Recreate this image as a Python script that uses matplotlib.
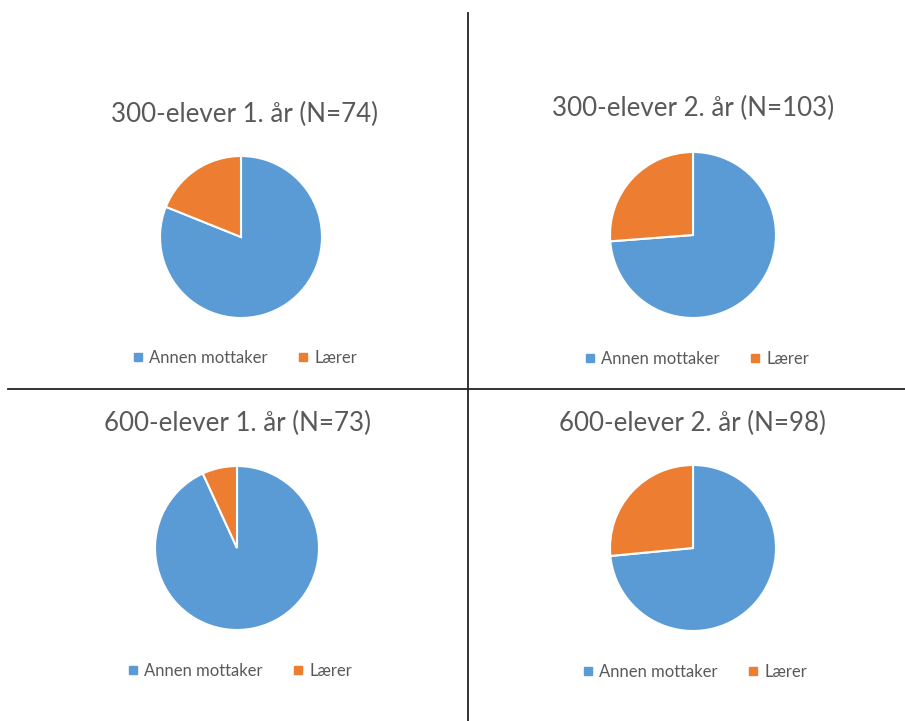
import matplotlib
matplotlib.use('Agg')
import matplotlib.pyplot as plt
from matplotlib.lines import Line2D

# data
categories = ['Annen mottaker', 'Lærer']
titles = ['300-elever 1. år (N=74)', '300-elever 2. år (N=103)',
          '600-elever 1. år (N=73)', '600-elever 2. år (N=98)']
annen = [60, 76, 68, 72]
laerer = [14, 27, 5, 26]
colors = ['#5B9BD5', '#ED7D31']

W, H = 905, 721
plt.rcParams['font.family'] = ['Lato', 'DejaVu Sans']
text_color = '#595959'

# pixel layout per panel: pie centre, radius, title pos, legend centre
pie_pos = [(241, 237, 81), (693, 235, 83), (237, 548, 82), (693, 548, 83)]
title_pos = [(244, 114), (693, 108), (237, 423), (692, 423)]
legend_pos = [(245, 358), (697, 359), (240, 671), (695, 672)]

fig = plt.figure(figsize=(W / 100, H / 100), dpi=100)
fig.patch.set_facecolor('white')

for i in range(4):
    cx, cy, r = pie_pos[i]
    ax = fig.add_axes([(cx - r) / W, 1 - (cy + r) / H, 2 * r / W, 2 * r / H])
    ax.pie([annen[i], laerer[i]], colors=colors, startangle=90, counterclock=False,
           radius=1, wedgeprops=dict(edgecolor='white', linewidth=1.5))
    ax.set_xlim(-1.0, 1.0)
    ax.set_ylim(-1.0, 1.0)
    ax.set_aspect('equal')
    ax.axis('off')

    tx, ty = title_pos[i]
    fig.text(tx / W, 1 - ty / H, titles[i], ha='center', va='center',
             fontsize=18.6, color=text_color)

    handles = [Line2D([], [], marker='s', linestyle='none', markersize=6,
                      markerfacecolor=c, markeredgecolor=c) for c in colors]
    lx, ly = legend_pos[i]
    leg = fig.legend(handles, categories, loc='center', ncol=2, frameon=False,
                     bbox_to_anchor=(lx / W, 1 - ly / H), fontsize=12,
                     handlelength=0.6, handletextpad=0.4, columnspacing=1.8)
    for t in leg.get_texts():
        t.set_color(text_color)

# quadrant divider lines
fig.add_artist(Line2D([467.5 / W, 467.5 / W], [1 - 13 / H, 0], color='#222222', linewidth=1.3))
fig.add_artist(Line2D([8 / W, 1], [1 - 389 / H, 1 - 389 / H], color='#222222', linewidth=1.3))

fig.savefig('out.png', dpi=100, facecolor='white')
